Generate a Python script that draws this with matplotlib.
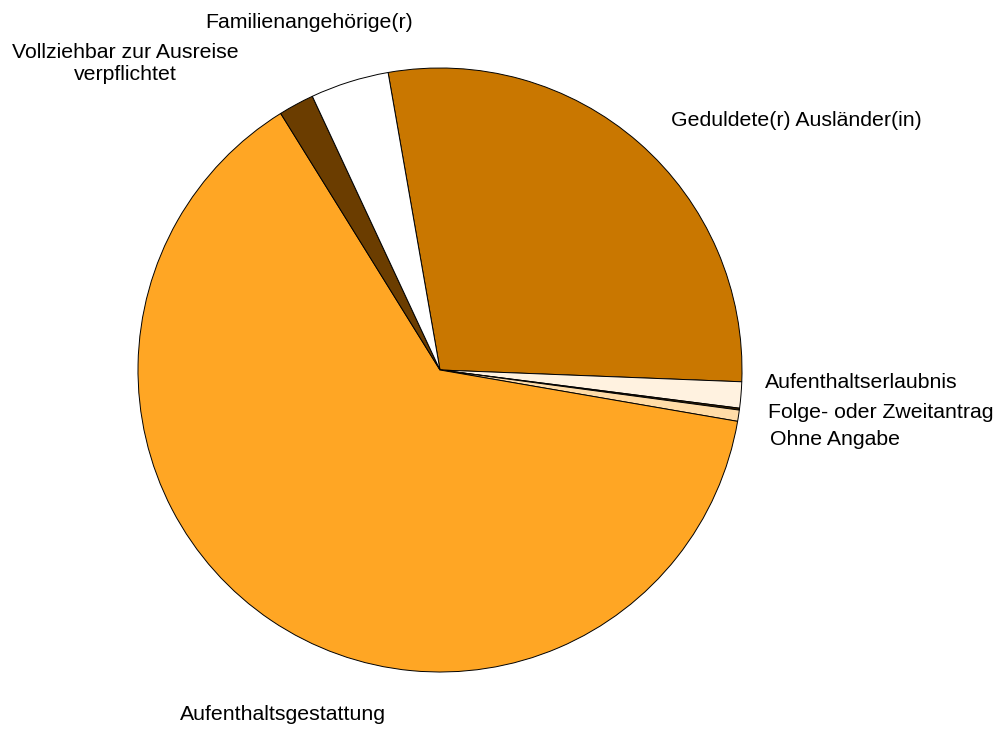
import matplotlib.pyplot as plt

plt.rcParams['font.family'] = ['Liberation Sans', 'DejaVu Sans']

labels = ['Geduldete(r) Ausländer(in)', 'Aufenthaltserlaubnis', 'Folge- oder Zweitantrag',
          'Ohne Angabe', 'Aufenthaltsgestattung', 'Vollziehbar zur Ausreise\nverpflichtet',
          'Familienangehörige(r)']
values = [28.4, 1.4, 0.1, 0.6, 63.5, 1.9, 4.2]
colors = ['#C97700', '#FFF2E0', '#3D2500', '#FFDCA8', '#FFA624', '#6B3D00', '#FFFFFF']

# label anchor (pixel x, pixel y from top, horizontal alignment)
label_pos = [(671, 120, 'left'), (765, 382, 'left'), (768, 413, 'left'), (770, 440, 'left'),
             (283, 715, 'center'), (125, 63, 'center'), (309, 22, 'center')]

fig = plt.figure(figsize=(10, 7.29), dpi=100)
ax = fig.add_axes([0.138, 57 / 729, 0.604, 604 / 729])
ax.pie(values, colors=colors, startangle=99.9, counterclock=False, radius=1,
       wedgeprops=dict(edgecolor='black', linewidth=0.7))
ax.set_xlim(-1.0, 1.0)
ax.set_ylim(-1.0, 1.0)
ax.set_aspect('equal')
ax.axis('off')

for lab, (px, py, ha) in zip(labels, label_pos):
    fig.text(px / 1000, 1 - py / 729, lab, ha=ha, va='center', fontsize=15.3,
             linespacing=1.2)

fig.savefig('out.png', dpi=100)
